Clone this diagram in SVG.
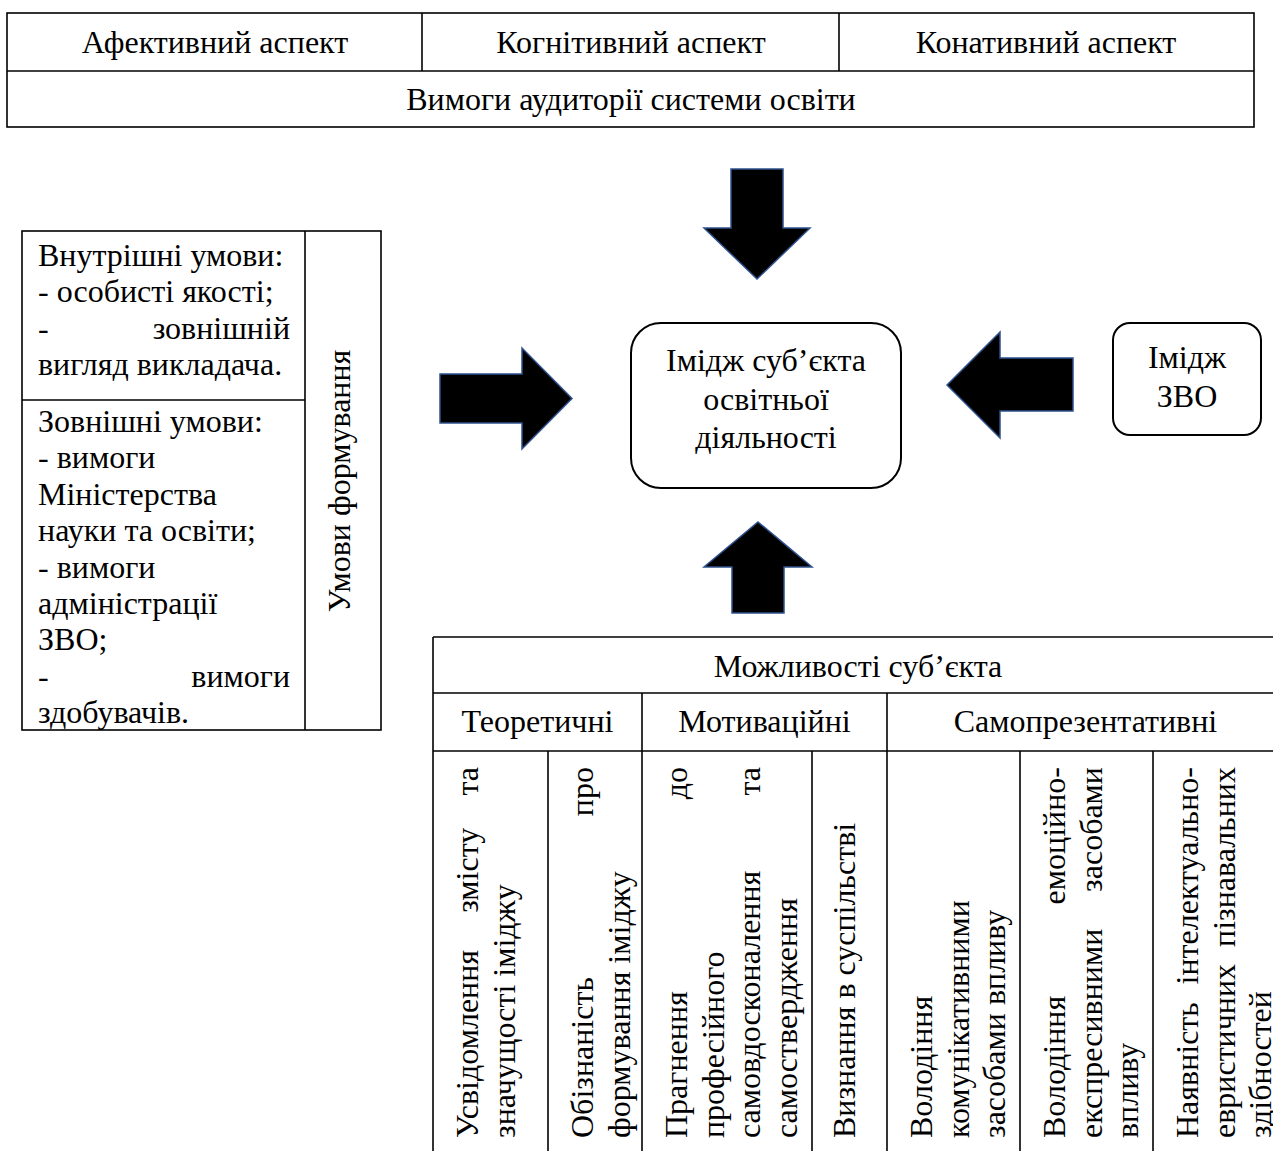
<svg xmlns="http://www.w3.org/2000/svg" width="1273" height="1151" viewBox="0 0 1273 1151">
<style>
  text { font-family: "Liberation Serif", "Times New Roman", serif; font-size: 32px; fill: #000; }
  .c { text-anchor: middle; }
  .e { text-anchor: end; }
  .ln { stroke: #000; stroke-width: 1.6; fill: none; }
  .box { stroke: #000; stroke-width: 2; fill: #fff; }
  .arr { fill: #000; stroke: #2F528F; stroke-width: 1.5; stroke-linejoin: miter; }
</style>
<rect width="1273" height="1151" fill="#fff"/>

<g id="top-table">
  <rect class="ln" x="7" y="13" width="1247" height="114"/>
  <line class="ln" x1="7" y1="71" x2="1254" y2="71"/>
  <line class="ln" x1="422" y1="13" x2="422" y2="71"/>
  <line class="ln" x1="839" y1="13" x2="839" y2="71"/>
  <text class="c" x="215" y="53">Афективний аспект</text>
  <text class="c" x="631" y="53">Когнітивний аспект</text>
  <text class="c" x="1046" y="53">Конативний аспект</text>
  <text class="c" x="631" y="110">Вимоги аудиторії системи освіти</text>
</g>

<g id="conditions">
  <rect class="ln" x="22" y="231" width="359" height="499"/>
  <line class="ln" x1="305" y1="231" x2="305" y2="730"/>
  <line class="ln" x1="22" y1="400" x2="305" y2="400"/>
  <text x="38" y="266">Внутрішні умови:</text>
  <text x="38" y="302.4">- особисті якості;</text>
  <text x="38" y="338.8">-</text><text class="e" x="290" y="338.8">зовнішній</text>
  <text x="38" y="375.2">вигляд викладача.</text>
  <text x="38" y="432">Зовнішні умови:</text>
  <text x="38" y="468.4">- вимоги</text>
  <text x="38" y="504.8">Міністерства</text>
  <text x="38" y="541.2">науки та освіти;</text>
  <text x="38" y="577.6">- вимоги</text>
  <text x="38" y="614">адміністрації</text>
  <text x="38" y="650.4">ЗВО;</text>
  <text x="38" y="686.8">-</text><text class="e" x="290" y="686.8">вимоги</text>
  <text x="38" y="723.2">здобувачів.</text>
  <text class="c" transform="translate(350,481) rotate(-90)" x="0" y="0">Умови формування</text>
</g>

<g id="center-node">
  <rect class="box" x="631" y="323" width="270" height="165" rx="30" ry="30"/>
  <text class="c" x="766" y="371">Імідж суб’єкта</text>
  <text class="c" x="766" y="409.5">освітньої</text>
  <text class="c" x="766" y="448">діяльності</text>
</g>

<g id="zvo-node">
  <rect class="box" x="1113" y="323" width="148" height="112" rx="17" ry="17"/>
  <text class="c" x="1187" y="368">Імідж</text>
  <text class="c" x="1187" y="407">ЗВО</text>
</g>

<g id="abilities-table">
  <line class="ln" x1="433" y1="637" x2="1284" y2="637"/>
  <line class="ln" x1="433" y1="693" x2="1284" y2="693"/>
  <line class="ln" x1="433" y1="751" x2="1284" y2="751"/>
  <line class="ln" x1="433" y1="637" x2="433" y2="1151"/>
  <line class="ln" x1="642" y1="693" x2="642" y2="1151"/>
  <line class="ln" x1="887" y1="693" x2="887" y2="1151"/>
  <line class="ln" x1="548" y1="751" x2="548" y2="1151"/>
  <line class="ln" x1="812" y1="751" x2="812" y2="1151"/>
  <line class="ln" x1="1020" y1="751" x2="1020" y2="1151"/>
  <line class="ln" x1="1153" y1="751" x2="1153" y2="1151"/>
  <text class="c" x="858" y="677">Можливості суб’єкта</text>
  <text class="c" x="537.5" y="732">Теоретичні</text>
  <text class="c" x="764.5" y="732">Мотиваційні</text>
  <text class="c" x="1085.5" y="732">Самопрезентативні</text>

  <g transform="translate(478,1138) rotate(-90)">
    <text x="0" y="0">Усвідомлення</text><text class="c" x="267.7" y="0">змісту</text><text class="e" x="371" y="0">та</text>
    <text x="0" y="36.7">значущості іміджу</text>
  </g>
  <g transform="translate(593,1138) rotate(-90)">
    <text x="0" y="0">Обізнаність</text><text class="e" x="371" y="0">про</text>
    <text x="0" y="36.7">формування іміджу</text>
  </g>
  <g transform="translate(687,1138) rotate(-90)">
    <text x="0" y="0">Прагнення</text><text class="e" x="371" y="0">до</text>
    <text x="0" y="36.7">професійного</text>
    <text x="0" y="73.4">самовдосконалення</text><text class="e" x="371" y="73.4">та</text>
    <text x="0" y="110.1">самоствердження</text>
  </g>
  <g transform="translate(855,1138) rotate(-90)">
    <text x="0" y="0">Визнання в суспільстві</text>
  </g>
  <g transform="translate(932,1138) rotate(-90)">
    <text x="0" y="0">Володіння</text>
    <text x="0" y="36.7">комунікативними</text>
    <text x="0" y="73.4">засобами впливу</text>
  </g>
  <g transform="translate(1065,1138) rotate(-90)">
    <text x="0" y="0">Володіння</text><text class="e" x="371" y="0">емоційно-</text>
    <text x="0" y="36.7">експресивними</text><text class="e" x="371" y="36.7">засобами</text>
    <text x="0" y="73.4">впливу</text>
  </g>
  <g transform="translate(1198,1138) rotate(-90)">
    <text x="0" y="0">Наявність</text><text class="e" x="371" y="0">інтелектуально-</text>
    <text x="0" y="36.7">евристичних</text><text class="e" x="371" y="36.7">пізнавальних</text>
    <text x="0" y="73.4">здібностей</text>
  </g>
</g>

<g id="connectors">
  <polygon class="arr" points="731,169 783,169 783,228 810,228 757,279 704,228 731,228"/>
  <polygon class="arr" points="758,522 812,567 784,567 784,613 732,613 732,567 704,567"/>
  <polygon class="arr" points="440,374 522,374 522,348 572,398.5 522,449 522,423 440,423"/>
  <polygon class="arr" points="947,385 1000,332 1000,358 1073,358 1073,411 1000,411 1000,438"/>
</g>
</svg>
